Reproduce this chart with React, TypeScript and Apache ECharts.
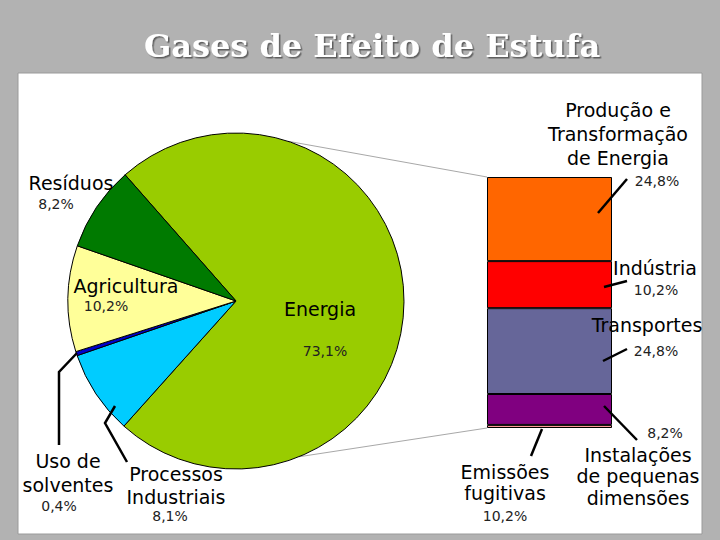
import React, { useEffect, useRef } from "react";
import * as echarts from "echarts";

// pie: share of each sector (%)
const pieNames = ["Energia", "Processos\nIndustriais", "Uso de\nsolventes", "Agricultura", "Resíduos"];
const pieValues = [73.1, 8.1, 0.4, 10.2, 8.2];
const pieColors = ["#99CC00", "#00CCFF", "#0000CC", "#FFFF99", "#007A00"];

// bar: split of "Energia", bottom to top (heights)
const barNames = ["Emissões\nfugitivas", "Instalações\nde pequenas\ndimensões", "Transportes", "Indústria", "Produção e\nTransformação\nde Energia"];
const barValues = [0.9, 9.0, 25.0, 13.7, 24.5];
const barLabels = ["10,2%", "8,2%", "24,8%", "10,2%", "24,8%"];
const barColors = ["#FF9999", "#800080", "#666699", "#FF0000", "#FF6600"];

const TITLE = "Gases de Efeito de Estufa";

// layout
const PIE_CX = 236;
const PIE_CY = 301;
const PIE_R = 168;
const BAR = { left: 487, top: 177, width: 125, height: 251 };

// label placement: [nameX, nameY(top), lineHeight, pctX, pctY]
const pieLabelPos: [number, number, number, number, number][] = [
    [320, 298, 22, 325, 351],
    [176, 462, 23, 170, 516],
    [68, 449, 24, 59, 506],
    [126, 275, 22, 106, 306],
    [71, 172, 22, 56, 204],
];
const barLabelPos: [number, number, number, number, number][] = [
    [505, 461, 21, 505, 516],
    [638, 444, 21.5, 665, 433],
    [647, 314, 22, 656, 351],
    [655, 257, 22, 656, 290],
    [618, 98, 24, 657, 181],
];

const leaders: number[][][] = [
    [[627, 179], [598, 213]],
    [[627, 281], [604, 287]],
    [[627, 349], [603, 361]],
    [[604, 406], [637, 440]],
    [[542, 429], [531, 456]],
    [[77, 353], [59, 372], [59, 445]],
    [[115, 406], [105, 423], [127, 462]],
];

const FONT = "'DejaVu Sans', Verdana, sans-serif";

function pct(v: number) {
    return v.toFixed(1).replace(".", ",") + "%";
}

function labelEls(names: string[], pcts: string[], pos: [number, number, number, number, number][]) {
    const els: any[] = [];
    names.forEach((n, i) => {
        const [nx, ny, lh, px, py] = pos[i];
        els.push({
            type: "text",
            x: nx,
            y: ny,
            z: 100,
            style: { text: n, fill: "#000", font: `19px ${FONT}`, lineHeight: lh, align: "center", verticalAlign: "top" },
        });
        els.push({
            type: "text",
            x: px,
            y: py,
            z: 100,
            style: { text: pcts[i], fill: "#222", font: `14px ${FONT}`, align: "center", verticalAlign: "middle" },
        });
    });
    return els;
}

function edgePoint(deg: number) {
    const a = (deg * Math.PI) / 180;
    return [PIE_CX + PIE_R * Math.cos(a), PIE_CY - PIE_R * Math.sin(a)];
}

const App: React.FC = () => {
    const ref = useRef<HTMLDivElement | null>(null);

    useEffect(() => {
        if (!ref.current) return;
        document.body.style.margin = "0";
        const inst = echarts.init(ref.current, null, { renderer: "svg" });

        const top = edgePoint(72);
        const bottom = edgePoint(-68);

        inst.setOption({
            animation: false,
            backgroundColor: "#B2B2B2",
            graphic: [
                {
                    type: "rect",
                    z: -10,
                    shape: { x: 18, y: 73, width: 684, height: 461 },
                    style: { fill: "#FFFFFF", stroke: "#9A9A9A", lineWidth: 1 },
                },
                {
                    type: "text",
                    x: 372,
                    y: 46,
                    style: {
                        text: TITLE,
                        fill: "#FFFFFF",
                        font: "bold 32px 'DejaVu Serif', 'Liberation Serif', serif",
                        align: "center",
                        verticalAlign: "middle",
                        textShadowColor: "rgba(60,60,60,0.7)",
                        textShadowOffsetX: 1.5,
                        textShadowOffsetY: 1.5,
                        textShadowBlur: 1,
                    },
                },
                {
                    type: "line",
                    z: 1,
                    shape: { x1: top[0], y1: top[1], x2: BAR.left, y2: BAR.top },
                    style: { stroke: "#A8A8A8", lineWidth: 1 },
                },
                {
                    type: "line",
                    z: 1,
                    shape: { x1: bottom[0], y1: bottom[1], x2: BAR.left, y2: BAR.top + BAR.height },
                    style: { stroke: "#A8A8A8", lineWidth: 1 },
                },
                ...leaders.map((pts) => ({
                    type: "polyline",
                    z: 100,
                    shape: { points: pts },
                    style: { stroke: "#000", lineWidth: 2.5, fill: null },
                })),
                ...labelEls(pieNames, pieValues.map(pct), pieLabelPos),
                ...labelEls(barNames, barLabels, barLabelPos),
            ],
            grid: { left: BAR.left, top: BAR.top, width: BAR.width, height: BAR.height },
            xAxis: { type: "category", data: ["Energia"], show: false },
            yAxis: { type: "value", min: 0, max: barValues.reduce((a, b) => a + b, 0), show: false },
            series: [
                {
                    type: "pie",
                    center: [PIE_CX, PIE_CY],
                    radius: PIE_R,
                    startAngle: 131.3,
                    clockwise: true,
                    label: { show: false },
                    labelLine: { show: false },
                    emphasis: { disabled: true },
                    itemStyle: { borderColor: "#000", borderWidth: 1 },
                    data: pieValues.map((v, i) => ({
                        name: pieNames[i],
                        value: v,
                        itemStyle: { color: pieColors[i] },
                    })),
                },
                ...barValues.map((v, i) => ({
                    type: "bar",
                    name: barNames[i],
                    stack: "energia",
                    barWidth: "100%",
                    data: [v],
                    itemStyle: { color: barColors[i], borderColor: "#000", borderWidth: 1 },
                    emphasis: { disabled: true },
                })),
            ],
        });

        return () => inst.dispose();
    }, []);

    return <div ref={ref} style={{ position: "absolute", left: 0, top: 0, width: 720, height: 540 }} />;
};

export default App;
